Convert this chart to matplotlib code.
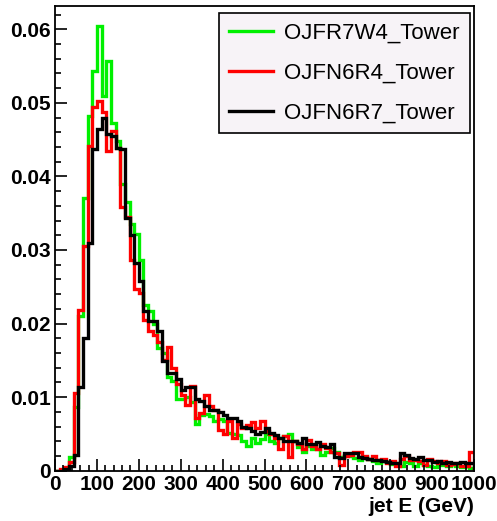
import numpy as np
import matplotlib
matplotlib.use("Agg")
import matplotlib.pyplot as plt
from matplotlib.ticker import MultipleLocator

# jet energy histograms (fraction per bin), 90 bins between 0 and 1000 GeV
e_min, e_max, n_bins = 0, 1000, 90

green_vals = [
    0.0000, 0.0000, 0.0003, 0.0019, 0.0087, 0.0210, 0.0371, 0.0482, 0.0543, 0.0605,
    0.0509, 0.0557, 0.0473, 0.0448, 0.0390, 0.0365, 0.0336, 0.0322, 0.0287, 0.0225,
    0.0217, 0.0200, 0.0167, 0.0160, 0.0127, 0.0122, 0.0097, 0.0097, 0.0100, 0.0093,
    0.0063, 0.0076, 0.0077, 0.0075, 0.0068, 0.0070, 0.0068, 0.0051, 0.0050, 0.0049,
    0.0040, 0.0033, 0.0045, 0.0038, 0.0043, 0.0050, 0.0041, 0.0038, 0.0044, 0.0047,
    0.0050, 0.0040, 0.0032, 0.0025, 0.0033, 0.0030, 0.0029, 0.0021, 0.0026, 0.0031,
    0.0025, 0.0019, 0.0022, 0.0020, 0.0017, 0.0015, 0.0018, 0.0016, 0.0013, 0.0011,
    0.0013, 0.0012, 0.0009, 0.0010, 0.0006, 0.0012, 0.0010, 0.0007, 0.0011, 0.0008,
    0.0006, 0.0005, 0.0009, 0.0008, 0.0007, 0.0009, 0.0006, 0.0005, 0.0007, 0.0004,
]

red_vals = [
    0.0000, 0.0002, 0.0005, 0.0012, 0.0106, 0.0219, 0.0305, 0.0441, 0.0494, 0.0502,
    0.0487, 0.0434, 0.0462, 0.0439, 0.0358, 0.0345, 0.0287, 0.0247, 0.0242, 0.0205,
    0.0190, 0.0185, 0.0175, 0.0151, 0.0168, 0.0140, 0.0118, 0.0103, 0.0090, 0.0115,
    0.0072, 0.0079, 0.0103, 0.0088, 0.0083, 0.0056, 0.0050, 0.0068, 0.0045, 0.0063,
    0.0058, 0.0062, 0.0066, 0.0058, 0.0067, 0.0054, 0.0050, 0.0044, 0.0030, 0.0047,
    0.0018, 0.0040, 0.0036, 0.0030, 0.0042, 0.0033, 0.0030, 0.0036, 0.0031, 0.0026,
    0.0024, 0.0008, 0.0020, 0.0022, 0.0025, 0.0026, 0.0020, 0.0016, 0.0020, 0.0014,
    0.0016, 0.0010, 0.0013, 0.0007, 0.0016, 0.0020, 0.0015, 0.0014, 0.0013, 0.0008,
    0.0016, 0.0013, 0.0011, 0.0013, 0.0008, 0.0009, 0.0011, 0.0007, 0.0006, 0.0026,
]

black_vals = [
    0.0000, 0.0000, 0.0002, 0.0006, 0.0022, 0.0114, 0.0180, 0.0310, 0.0437, 0.0465,
    0.0479, 0.0457, 0.0455, 0.0439, 0.0437, 0.0344, 0.0321, 0.0283, 0.0258, 0.0217,
    0.0203, 0.0203, 0.0190, 0.0149, 0.0133, 0.0133, 0.0125, 0.0110, 0.0114, 0.0114,
    0.0097, 0.0095, 0.0088, 0.0083, 0.0083, 0.0080, 0.0076, 0.0072, 0.0072, 0.0067,
    0.0060, 0.0058, 0.0054, 0.0050, 0.0053, 0.0058, 0.0051, 0.0048, 0.0044, 0.0040,
    0.0041, 0.0040, 0.0038, 0.0044, 0.0036, 0.0036, 0.0039, 0.0033, 0.0032, 0.0037,
    0.0019, 0.0017, 0.0024, 0.0024, 0.0024, 0.0019, 0.0017, 0.0016, 0.0015, 0.0015,
    0.0013, 0.0012, 0.0011, 0.0010, 0.0024, 0.0022, 0.0017, 0.0016, 0.0019, 0.0014,
    0.0015, 0.0012, 0.0013, 0.0011, 0.0012, 0.0011, 0.0010, 0.0012, 0.0010, 0.0011,
]

labels = ["OJFR7W4_Tower", "OJFN6R4_Tower", "OJFN6R7_Tower"]
colors = ["#00f000", "#ff0000", "#000000"]

plt.rcParams['font.family'] = ['Liberation Sans', 'DejaVu Sans']

edges = np.linspace(e_min, e_max, n_bins + 1)

fig = plt.figure(figsize=(4.97, 5.21), dpi=100)
ax = fig.add_axes([0.1107, 0.0965, 0.843, 0.8925])

for vals, lab, col in zip([green_vals, red_vals, black_vals], labels, colors):
    ax.stairs(vals, edges, color=col, lw=2.4, label=lab)

ax.set_xlim(0, 1000)
ax.set_ylim(0, 0.0632)

ax.xaxis.set_major_locator(MultipleLocator(100))
ax.xaxis.set_minor_locator(MultipleLocator(20))
ax.yaxis.set_major_locator(MultipleLocator(0.01))
ax.yaxis.set_minor_locator(MultipleLocator(0.002))
ax.yaxis.set_major_formatter(lambda v, p: "0" if abs(v) < 1e-9 else "%.2f" % v)

ax.tick_params(which='both', direction='in', width=1.2, top=False, right=False)
ax.tick_params(which='major', length=8.5, labelsize=15, pad=3)
ax.tick_params(which='minor', length=4.5)
for lbl in ax.get_xticklabels() + ax.get_yticklabels():
    lbl.set_fontweight('bold')
for sp in ax.spines.values():
    sp.set_linewidth(1.3)

ax.set_xlabel("jet E (GeV)", loc='right', fontsize=15, fontweight='bold', labelpad=2)

leg = ax.legend(loc='upper right', bbox_to_anchor=(0.99, 0.985), fontsize=16,
                frameon=True, fancybox=False, edgecolor='black', facecolor='#f7f3f7',
                framealpha=1, handlelength=2.0, handletextpad=0.5, labelspacing=0.85,
                borderpad=0.45, borderaxespad=0)
leg.get_frame().set_linewidth(1.2)
for line in leg.get_lines():
    line.set_linewidth(2.4)

fig.savefig("out.png", dpi=100)
